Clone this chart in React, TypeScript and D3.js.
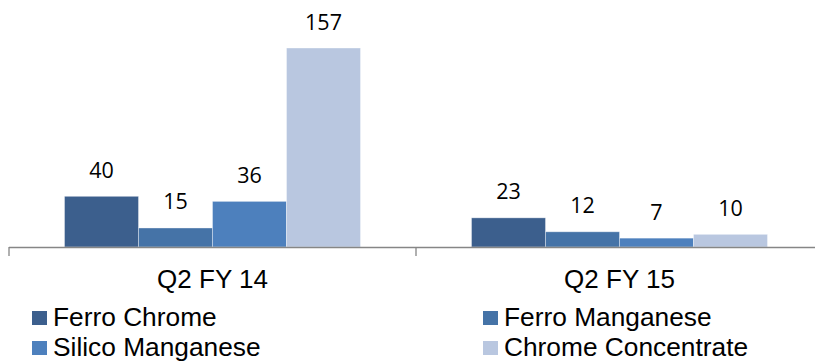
import React from "react";
import * as d3 from "d3";

const categories = ["Q2 FY 14", "Q2 FY 15"];
const seriesNames = ["Ferro Chrome", "Ferro Manganese", "Silico Manganese", "Chrome Concentrate"];
const seriesColors = ["#3C5F8D", "#4573A7", "#4D80BD", "#B9C7E0"];
const fy14Values = [40, 15, 36, 157];
const fy15Values = [23, 12, 7, 10];
const valuesByCategory = [fy14Values, fy15Values];

const W = 815;
const H = 361;
const baseY = 247;

export default function App() {
  const x0 = d3.scaleBand<string>().domain(categories).range([9, 823]).paddingInner(0).paddingOuter(0);
  const x1 = d3
    .scaleBand<string>()
    .domain(seriesNames)
    .range([0, x0.bandwidth()])
    .paddingInner(0)
    .paddingOuter(0.75);
  const y = d3.scaleLinear().domain([0, 157]).range([baseY, 48]);

  const labelFont = "'Open Sans', 'DejaVu Sans', sans-serif";
  const textFont = "'Liberation Sans', Arial, sans-serif";

  const legendPos = [
    { x: 32, y: 311 },
    { x: 483, y: 311 },
    { x: 32, y: 341 },
    { x: 483, y: 341 },
  ];

  const tickXs = [...categories.map((c) => x0(c) as number), 823];

  return (
    <div style={{ position: "fixed", left: 0, top: 0 }}>
      <svg width={W} height={H} style={{ display: "block", background: "#fff" }}>
        {categories.map((cat, ci) => (
          <g key={cat} transform={`translate(${x0(cat)},0)`}>
            {valuesByCategory[ci].map((v, si) => {
              const name = seriesNames[si];
              const bx = x1(name) as number;
              const top = y(v);
              return (
                <g key={name}>
                  <rect
                    x={bx}
                    y={top}
                    width={x1.bandwidth()}
                    height={baseY - top}
                    fill={seriesColors[si]}
                    stroke="rgba(255,255,255,0.45)"
                    strokeWidth={0.8}
                  />
                  <text
                    x={bx + x1.bandwidth() / 2}
                    y={top - 18.5}
                    textAnchor="middle"
                    fontFamily={labelFont}
                    fontSize={21.5}
                    fill="#000"
                  >
                    {v}
                  </text>
                </g>
              );
            })}
            <text
              x={x0.bandwidth() / 2}
              y={288}
              textAnchor="middle"
              fontFamily={textFont}
              fontSize={26}
              fill="#000"
            >
              {cat}
            </text>
          </g>
        ))}

        <line x1={9} x2={823} y1={baseY + 0.5} y2={baseY + 0.5} stroke="#868686" strokeWidth={1.6} />
        {tickXs.map((tx, i) => (
          <line key={i} x1={tx} x2={tx} y1={baseY} y2={256} stroke="#868686" strokeWidth={1.3} />
        ))}

        {seriesNames.map((name, i) => (
          <g key={name}>
            <rect x={legendPos[i].x} y={legendPos[i].y} width={15} height={14} fill={seriesColors[i]} />
            <text
              x={legendPos[i].x + 21}
              y={legendPos[i].y + 15}
              fontFamily={textFont}
              fontSize={26.3}
              fill="#000"
            >
              {name}
            </text>
          </g>
        ))}
      </svg>
    </div>
  );
}
